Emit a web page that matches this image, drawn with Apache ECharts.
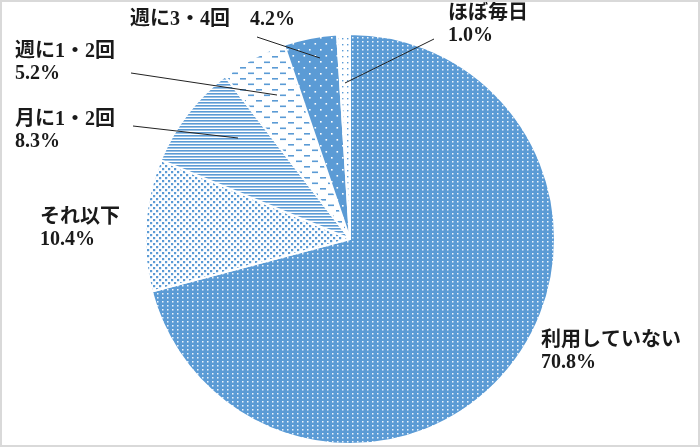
<!DOCTYPE html>
<html>
<head>
<meta charset="utf-8">
<script src="https://cdn.jsdelivr.net/npm/echarts@6/dist/echarts.min.js"></script>
<style>
  html, body { margin: 0; padding: 0; background: #fff; }
  #wrap { position: relative; width: 700px; height: 447px; }
  #chart { width: 700px; height: 447px; }
  #frame { position: absolute; left: 0; top: 0; width: 700px; height: 447px; box-sizing: border-box;
           border: 2px solid #d9d9d9; pointer-events: none; }
</style>
</head>
<body>
<div id="wrap"><div id="chart"></div><div id="frame"></div></div>
<script>
// ---- data ----
const categories = ['利用していない', 'それ以下', '月に1・2回', '週に1・2回', '週に3・4回', 'ほぼ毎日'];
const values = [70.8, 10.4, 8.3, 5.2, 4.2, 1.0];

// ---- styling ----
const BLUE = '#5b9bd5';
function makePattern(w, h, draw) {
  const c = document.createElement('canvas');
  c.width = w; c.height = h;
  const ctx = c.getContext('2d');
  draw(ctx, w, h);
  return { image: c, repeat: 'repeat' };
}
const patterns = [
  // blue with fine white dots
  makePattern(5, 4, (ctx, w, h) => {
    ctx.fillStyle = BLUE; ctx.fillRect(0, 0, w, h);
    ctx.fillStyle = 'rgba(255,255,255,0.9)'; ctx.fillRect(2, 1, 1.5, 1.5);
  }),
  // white with dense blue confetti
  makePattern(6, 6, (ctx, w, h) => {
    ctx.fillStyle = '#fff'; ctx.fillRect(0, 0, w, h);
    ctx.fillStyle = BLUE;
    ctx.fillRect(0, 0, 2.2, 2.2);
    ctx.fillRect(3, 3, 2.2, 2.2);
  }),
  // horizontal fine lines
  makePattern(4, 3, (ctx, w, h) => {
    ctx.fillStyle = '#fff'; ctx.fillRect(0, 0, w, h);
    ctx.fillStyle = BLUE; ctx.fillRect(0, 0, w, 1.6);
  }),
  // dashed horizontal lines
  makePattern(16, 11, (ctx, w, h) => {
    ctx.fillStyle = '#fff'; ctx.fillRect(0, 0, w, h);
    ctx.fillStyle = BLUE;
    ctx.fillRect(0, 1, 6, 1.6);
    ctx.fillRect(8, 6.5, 6, 1.6);
  }),
  // blue with sparse white dots
  makePattern(11, 12, (ctx, w, h) => {
    ctx.fillStyle = BLUE; ctx.fillRect(0, 0, w, h);
    ctx.fillStyle = '#fff';
    ctx.fillRect(1, 1, 1.6, 1.6);
    ctx.fillRect(6.5, 7, 1.6, 1.6);
  }),
  // white with sparse blue dots
  makePattern(5, 6, (ctx, w, h) => {
    ctx.fillStyle = '#fff'; ctx.fillRect(0, 0, w, h);
    ctx.fillStyle = BLUE; ctx.fillRect(2, 2, 1.4, 1.4);
  })
];

// label placement (top-left of text block) and leader lines
const labelPos = [[541, 330], [40, 207], [15, 109], [15, 41], [130, 9], [448, 3]];
const linePts = [
  null, null,
  [[133, 126], [238, 138]],
  [[131, 73], [277, 95]],
  [[257, 37], [320, 58]],
  [[434, 39], [345, 83]]
];

const common = {
  type: 'pie',
  center: [350, 239],
  radius: 205,
  startAngle: 90,
  clockwise: true,
  avoidLabelOverlap: false
};

const chart = echarts.init(document.getElementById('chart'));
chart.setOption({
  backgroundColor: '#fff',
  animation: false,
  series: [
    Object.assign({}, common, {
      z: 2,
      data: categories.map((name, i) => ({
        name, value: values[i], itemStyle: { color: patterns[i] }
      })),
      itemStyle: { borderColor: '#fff', borderWidth: 2 },
      label: { show: false },
      labelLine: { show: false }
    }),
    // overlay series carrying labels and leader lines above the slices
    Object.assign({}, common, {
      z: 5,
      silent: true,
      data: categories.map((name, i) => ({
        name, value: values[i],
        labelLine: { show: !!linePts[i] }
      })),
      itemStyle: { color: 'rgba(0,0,0,0)', borderWidth: 0 },
      label: {
        show: true,
        position: 'outside',
        color: '#1a1a1a',
        fontSize: 20,
        lineHeight: 22,
        fontWeight: 'bold',
        fontFamily: "'Liberation Serif', 'Noto Sans CJK JP', serif",
        formatter: p => p.dataIndex === 4
          ? p.name + '\u3000' + p.value.toFixed(1) + '%'
          : p.name + '\n' + p.value.toFixed(1) + '%'
      },
      labelLine: { show: true, lineStyle: { color: '#222', width: 1 } },
      labelLayout: p => {
        const i = p.dataIndex;
        const o = { x: labelPos[i][0], y: labelPos[i][1], align: 'left', verticalAlign: 'top' };
        if (linePts[i]) o.labelLinePoints = linePts[i];
        return o;
      }
    })
  ]
});
</script>
</body>
</html>
